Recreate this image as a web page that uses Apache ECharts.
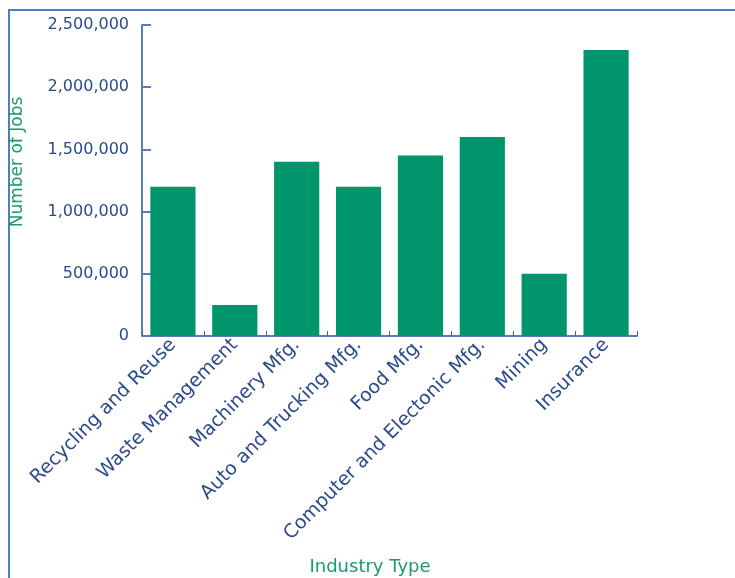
<!DOCTYPE html>
<html><head><meta charset="utf-8">
<script src="https://cdn.jsdelivr.net/npm/echarts@6/dist/echarts.min.js"></script>
<style>html,body{margin:0;padding:0;background:#fff}#c{width:735px;height:578px}</style>
</head><body><div id="c"></div>
<script>
const categories = ["Recycling and Reuse","Waste Management","Machinery Mfg.","Auto and Trucking Mfg.","Food Mfg.","Computer and Electonic Mfg.","Mining","Insurance"];
const jobs = [1200000, 250000, 1400000, 1200000, 1450000, 1600000, 500000, 2300000];
const yTicks = [0, 500000, 1000000, 1500000, 2000000, 2500000];

const chart = echarts.init(document.getElementById('c'));
const font = '"DejaVu Sans", sans-serif';
chart.setOption({
  animation: false,
  grid: {left: 142, right: 98, top: 25, bottom: 242},
  graphic: [
    {type: 'rect', shape: {x: 9, y: 10, width: 900, height: 700}, style: {fill: 'none', stroke: '#4d7fc2', lineWidth: 2}},
    {type: 'text', x: 370, y: 567, style: {text: 'Industry Type', fill: '#1a9a6e', font: '18px ' + font, textAlign: 'center', textVerticalAlign: 'middle'}},
    {type: 'text', x: 18, y: 162, rotation: Math.PI / 2, style: {text: 'Number of Jobs', fill: '#1a9a6e', font: '17px ' + font, textAlign: 'center', textVerticalAlign: 'middle'}}
  ],
  xAxis: {
    type: 'category', data: categories,
    axisLine: {lineStyle: {color: '#5a7db5', width: 2}},
    axisTick: {show: true, inside: true, length: 5, lineStyle: {color: '#3d5e9c'}},
    axisLabel: {rotate: 45, color: '#2b4b8a', fontSize: 19, fontFamily: font, margin: 6, interval: 0}
  },
  yAxis: {
    type: 'value', min: yTicks[0], max: yTicks[yTicks.length-1], interval: 500000,
    axisLine: {show: true, lineStyle: {color: '#5a7db5', width: 2}},
    axisTick: {show: true, inside: true, length: 9, lineStyle: {color: '#5a7db5', width: 2}},
    splitLine: {show: false},
    axisLabel: {color: '#2b4b8a', fontSize: 16, fontFamily: font, margin: 13,
      formatter: v => v.toLocaleString('en-US')}
  },
  series: [{
    type: 'bar', data: jobs, barCategoryGap: '27%',
    itemStyle: {color: '#00956b'}
  }]
});
</script></body></html>
